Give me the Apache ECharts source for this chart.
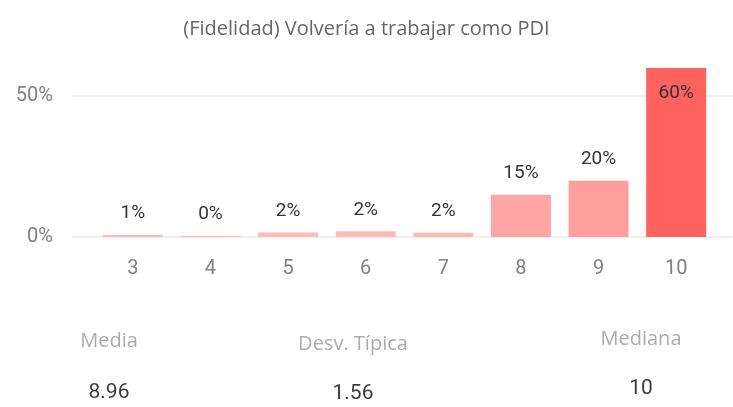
<!DOCTYPE html>
<html>
<head>
<meta charset="utf-8">
<script src="https://cdn.jsdelivr.net/npm/echarts@6/dist/echarts.min.js"></script>
<style>
  html, body { margin: 0; padding: 0; background: #fff; }
  #chart { width: 733px; height: 407px; }
</style>
</head>
<body>
<div id="chart"></div>
<script>
var myChart = echarts.init(document.getElementById('chart'));

// data
var categories = ['3', '4', '5', '6', '7', '8', '9', '10'];
var percents = [0.7, 0.4, 1.6, 2.0, 1.5, 15, 20, 60];
var statNames = ['Media', 'Desv. Típica', 'Mediana'];
var statValues = ['8.96', '1.56', '10'];
var titleText = '(Fidelidad) Volvería a trabajar como PDI';

var labelFont = 'Roboto';
var textFont = '"Open Sans", "Noto Sans", sans-serif';

var seriesData = percents.map(function (v) {
    var item = { value: v };
    if (v >= 50) {
        item.label = { position: 'insideTop', distance: 16 };
    }
    return item;
});

// stats under the chart
var statX = [109, 353, 641];
var statNameY = [341, 344, 339];
var statValueY = [393, 394, 389];
var graphics = [];
for (var i = 0; i < statNames.length; i++) {
    graphics.push({
        type: 'text', x: statX[i], y: statNameY[i],
        style: {
            text: statNames[i], fill: '#acacac',
            font: '20px ' + textFont,
            textAlign: 'center', textVerticalAlign: 'middle'
        }
    });
    graphics.push({
        type: 'text', x: statX[i], y: statValueY[i],
        style: {
            text: statValues[i], fill: '#3c3c3c',
            font: '21px ' + labelFont,
            textAlign: 'center', textVerticalAlign: 'middle'
        }
    });
}

option = {
    animation: false,
    backgroundColor: '#fff',
    title: {
        text: titleText,
        left: 'center',
        top: 14,
        textStyle: { color: '#666', fontSize: 20, fontWeight: 'normal', fontFamily: textFont }
    },
    grid: [
        { left: 72, right: 1, top: 54, bottom: 170 },
        { left: 94, right: 18, top: 54, bottom: 170 }
    ],
    visualMap: {
        show: false,
        type: 'continuous',
        seriesIndex: 0,
        min: 0,
        max: 60,
        inRange: { color: ['#ffbdbc', '#fd625e'] }
    },
    xAxis: [
        { gridIndex: 0, type: 'value', min: 0, max: 1, show: false },
        {
            gridIndex: 1,
            type: 'category',
            data: categories,
            axisLine: { show: false },
            axisTick: { show: false },
            axisLabel: { color: '#808080', fontSize: 20, fontFamily: labelFont, margin: 22 }
        }
    ],
    yAxis: [
        {
            gridIndex: 0,
            type: 'value',
            min: 0, max: 65, interval: 50,
            axisLine: { show: false },
            axisTick: { show: false },
            axisLabel: {
                color: '#808080', fontSize: 20, fontFamily: labelFont, margin: 19,
                showMaxLabel: false,
                formatter: function (v) { return v + '%'; }
            },
            // third line sits at the axis max and is kept invisible
            splitLine: { lineStyle: { color: ['#eaeaea', '#eaeaea', 'rgba(255,255,255,0)'], width: 1.5 } }
        },
        {
            gridIndex: 1,
            type: 'value',
            min: 0, max: 65,
            show: false,
            splitLine: { show: false }
        }
    ],
    series: [
        {
            type: 'bar',
            xAxisIndex: 1,
            yAxisIndex: 1,
            data: seriesData,
            barWidth: 60,
            label: {
                show: true,
                position: 'top',
                distance: 12,
                color: '#333',
                fontSize: 19,
                fontFamily: labelFont,
                formatter: function (p) { return Math.round(p.value) + '%'; }
            }
        }
    ],
    graphic: graphics
};

myChart.setOption(option);
</script>
</body>
</html>
